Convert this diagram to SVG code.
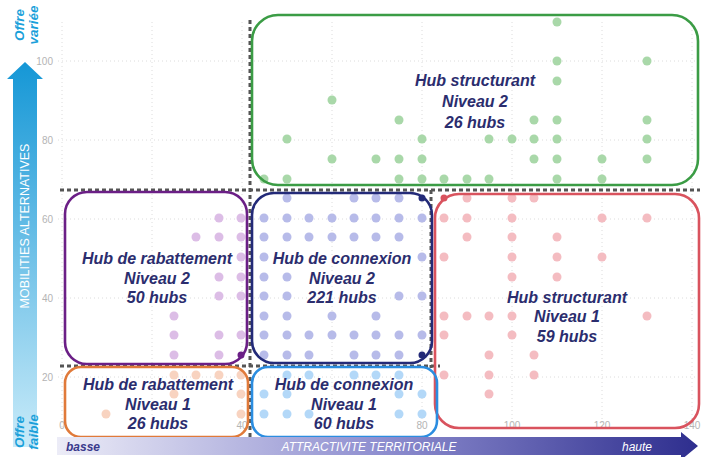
<svg xmlns="http://www.w3.org/2000/svg" width="702" height="457" viewBox="0 0 702 457">
<defs>
<linearGradient id="gv" x1="0" y1="1" x2="0" y2="0">
<stop offset="0" stop-color="#c9ebf9"/>
<stop offset="1" stop-color="#1597d6"/>
</linearGradient>
<linearGradient id="gh" x1="0" y1="0" x2="1" y2="0">
<stop offset="0" stop-color="#ececf7"/>
<stop offset="0.5" stop-color="#8f8fd0"/>
<stop offset="1" stop-color="#2e2e8e"/>
</linearGradient>
<style>
.grid{stroke:#dcdcdc;stroke-width:1;stroke-dasharray:1 3;fill:none}
.tick{font-family:"Liberation Sans",Arial,sans-serif;font-size:10px;fill:#b4b4b4}
.sep{stroke:#555;stroke-width:3;stroke-dasharray:4 3;fill:none}
.box{fill:none;stroke-width:2.6}
.lbl{font-family:"Liberation Sans",Arial,sans-serif;font-size:16px;font-weight:bold;font-style:italic;fill:#2b2d6e;text-anchor:middle}
.g circle{fill:#a9d8a9}
.p circle{fill:#dcbde6}
.n circle{fill:#b7bbe9}
.r circle{fill:#f4bcc1}
.o circle{fill:#f8d3c0}
.b circle{fill:#b3d8f8}
.ax{font-family:"Liberation Sans",Arial,sans-serif;font-size:13.5px;font-weight:bold;font-style:italic;fill:#1aa0da}
.axh{font-family:"Liberation Sans",Arial,sans-serif;font-size:12px;font-style:italic}
</style>
</defs>
<rect width="702" height="457" fill="#ffffff"/>

<g id="gridlines">
<path class="grid" d="M62 22V430M152 22V430M242 22V430M332 22V430M422 22V430M512 22V430M602 22V430M692 22V430M58 61H700M58 140H700M58 219H700M58 298H700M58 377H700"/>
<text class="tick" x="53" y="65" text-anchor="end">100</text>
<text class="tick" x="53" y="144" text-anchor="end">80</text>
<text class="tick" x="53" y="223" text-anchor="end">60</text>
<text class="tick" x="53" y="302" text-anchor="end">40</text>
<text class="tick" x="53" y="381" text-anchor="end">20</text>
<text class="tick" x="62" y="429" text-anchor="middle">0</text>
<text class="tick" x="242" y="429" text-anchor="middle">40</text>
<text class="tick" x="422" y="429" text-anchor="middle">80</text>
<text class="tick" x="512" y="429" text-anchor="middle">100</text>
<text class="tick" x="602" y="429" text-anchor="middle">120</text>
<text class="tick" x="692" y="429" text-anchor="middle">140</text>
</g>

<g id="dots">
<g class="g">
<circle cx="557" cy="22" r="4.5"/><circle cx="557" cy="61" r="4.5"/><circle cx="647" cy="61" r="4.5"/><circle cx="557" cy="81" r="4.5"/>
<circle cx="332" cy="100" r="4.5"/><circle cx="399" cy="120" r="4.5"/><circle cx="534" cy="120" r="4.5"/><circle cx="557" cy="120" r="4.5"/><circle cx="647" cy="120" r="4.5"/>
<circle cx="287" cy="139" r="4.5"/><circle cx="422" cy="139" r="4.5"/><circle cx="489" cy="139" r="4.5"/><circle cx="512" cy="139" r="4.5"/><circle cx="534" cy="139" r="4.5"/><circle cx="557" cy="139" r="4.5"/><circle cx="647" cy="139" r="4.5"/>
<circle cx="332" cy="159" r="4.5"/><circle cx="376" cy="159" r="4.5"/><circle cx="399" cy="159" r="4.5"/><circle cx="422" cy="159" r="4.5"/><circle cx="534" cy="159" r="4.5"/><circle cx="557" cy="159" r="4.5"/><circle cx="602" cy="159" r="4.5"/><circle cx="647" cy="159" r="4.5"/>
<circle cx="264" cy="179" r="4.5"/><circle cx="287" cy="179" r="4.5"/><circle cx="399" cy="179" r="4.5"/><circle cx="422" cy="179" r="4.5"/><circle cx="444" cy="179" r="4.5"/><circle cx="467" cy="179" r="4.5"/><circle cx="489" cy="179" r="4.5"/><circle cx="557" cy="179" r="4.5"/><circle cx="602" cy="179" r="4.5"/>
</g>
<g class="p">
<circle cx="219" cy="218" r="4.5"/><circle cx="241" cy="218" r="4.5"/><circle cx="196" cy="237" r="4.5"/><circle cx="219" cy="237" r="4.5"/><circle cx="241" cy="237" r="4.5"/><circle cx="241" cy="257" r="4.5"/>
<circle cx="219" cy="277" r="4.5"/><circle cx="241" cy="277" r="4.5"/><circle cx="219" cy="296" r="4.5"/><circle cx="241" cy="296" r="4.5"/><circle cx="174" cy="316" r="4.5"/>
<circle cx="174" cy="335" r="4.5"/><circle cx="219" cy="335" r="4.5"/><circle cx="241" cy="335" r="4.5"/><circle cx="174" cy="355" r="4.5"/><circle cx="219" cy="355" r="4.5"/>
</g>
<g class="n">
<circle cx="287" cy="198" r="4.5"/><circle cx="354" cy="198" r="4.5"/><circle cx="376" cy="198" r="4.5"/><circle cx="399" cy="198" r="4.5"/>
<circle cx="264" cy="218" r="4.5"/><circle cx="287" cy="218" r="4.5"/><circle cx="309" cy="218" r="4.5"/><circle cx="332" cy="218" r="4.5"/><circle cx="354" cy="218" r="4.5"/><circle cx="376" cy="218" r="4.5"/><circle cx="399" cy="218" r="4.5"/><circle cx="422" cy="218" r="4.5"/>
<circle cx="264" cy="237" r="4.5"/><circle cx="287" cy="237" r="4.5"/><circle cx="309" cy="237" r="4.5"/><circle cx="332" cy="237" r="4.5"/><circle cx="354" cy="237" r="4.5"/><circle cx="376" cy="237" r="4.5"/><circle cx="399" cy="237" r="4.5"/>
<circle cx="264" cy="257" r="4.5"/><circle cx="422" cy="257" r="4.5"/>
<circle cx="264" cy="277" r="4.5"/><circle cx="287" cy="277" r="4.5"/>
<circle cx="264" cy="296" r="4.5"/><circle cx="287" cy="296" r="4.5"/><circle cx="399" cy="296" r="4.5"/><circle cx="422" cy="296" r="4.5"/>
<circle cx="264" cy="316" r="4.5"/><circle cx="287" cy="316" r="4.5"/><circle cx="332" cy="316" r="4.5"/><circle cx="376" cy="316" r="4.5"/>
<circle cx="264" cy="335" r="4.5"/><circle cx="287" cy="335" r="4.5"/><circle cx="309" cy="335" r="4.5"/><circle cx="332" cy="335" r="4.5"/><circle cx="354" cy="335" r="4.5"/><circle cx="376" cy="335" r="4.5"/><circle cx="399" cy="335" r="4.5"/><circle cx="422" cy="335" r="4.5"/>
<circle cx="264" cy="355" r="4.5"/><circle cx="287" cy="355" r="4.5"/><circle cx="309" cy="355" r="4.5"/><circle cx="354" cy="355" r="4.5"/><circle cx="376" cy="355" r="4.5"/><circle cx="399" cy="355" r="4.5"/>
</g>
<g class="r">
<circle cx="467" cy="198" r="4.5"/><circle cx="512" cy="198" r="4.5"/><circle cx="534" cy="198" r="4.5"/>
<circle cx="444" cy="218" r="4.5"/><circle cx="467" cy="218" r="4.5"/><circle cx="512" cy="218" r="4.5"/><circle cx="602" cy="218" r="4.5"/><circle cx="647" cy="218" r="4.5"/>
<circle cx="467" cy="237" r="4.5"/><circle cx="512" cy="237" r="4.5"/><circle cx="557" cy="237" r="4.5"/>
<circle cx="444" cy="257" r="4.5"/><circle cx="512" cy="257" r="4.5"/><circle cx="557" cy="257" r="4.5"/><circle cx="602" cy="257" r="4.5"/>
<circle cx="512" cy="277" r="4.5"/><circle cx="557" cy="277" r="4.5"/>
<circle cx="444" cy="316" r="4.5"/><circle cx="467" cy="316" r="4.5"/><circle cx="489" cy="316" r="4.5"/><circle cx="512" cy="316" r="4.5"/><circle cx="647" cy="316" r="4.5"/>
<circle cx="444" cy="335" r="4.5"/><circle cx="512" cy="335" r="4.5"/>
<circle cx="489" cy="355" r="4.5"/><circle cx="534" cy="355" r="4.5"/>
<circle cx="444" cy="375" r="4.5"/><circle cx="489" cy="375" r="4.5"/><circle cx="534" cy="375" r="4.5"/>
<circle cx="489" cy="394" r="4.5"/>
</g>
<g class="o">
<circle cx="174" cy="375" r="4.5"/><circle cx="196" cy="375" r="4.5"/><circle cx="219" cy="375" r="4.5"/><circle cx="241" cy="375" r="4.5"/>
<circle cx="174" cy="394" r="4.5"/><circle cx="241" cy="394" r="4.5"/><circle cx="106" cy="414" r="4.5"/><circle cx="241" cy="414" r="4.5"/>
</g>
<g class="b">
<circle cx="287" cy="375" r="4.5"/><circle cx="309" cy="375" r="4.5"/><circle cx="354" cy="375" r="4.5"/><circle cx="376" cy="375" r="4.5"/><circle cx="399" cy="375" r="4.5"/>
<circle cx="264" cy="394" r="4.5"/><circle cx="287" cy="394" r="4.5"/><circle cx="399" cy="394" r="4.5"/><circle cx="422" cy="394" r="4.5"/>
<circle cx="264" cy="414" r="4.5"/><circle cx="287" cy="414" r="4.5"/><circle cx="309" cy="414" r="4.5"/><circle cx="399" cy="414" r="4.5"/><circle cx="422" cy="414" r="4.5"/>
</g>
</g>

<g id="connectors">
<path class="sep" d="M250 20V440"/>
<path class="sep" d="M60 190H700"/>
<path class="sep" d="M60 366H440"/>
<path class="sep" d="M431 190V368"/>
</g>

<g id="hub-structurant-n2">
<rect class="box" x="252" y="15" width="446" height="170" rx="26" stroke="#3b9c45"/>
<text class="lbl" x="475" y="86">Hub structurant</text>
<text class="lbl" x="475" y="107">Niveau 2</text>
<text class="lbl" x="475" y="128">26 hubs</text>
</g>

<g id="hub-rabattement-n2">
<rect class="box" x="65" y="192" width="182" height="172" rx="22" stroke="#6b1f86"/>
<circle cx="241" cy="355" r="3.5" fill="#6b1f86"/>
<text class="lbl" x="157" y="264">Hub de rabattement</text>
<text class="lbl" x="157" y="284">Niveau 2</text>
<text class="lbl" x="157" y="303">50 hubs</text>
</g>

<g id="hub-connexion-n2">
<rect class="box" x="252" y="193" width="180" height="170" rx="22" stroke="#232a78"/>
<circle cx="422" cy="198" r="3.5" fill="#232a78"/>
<circle cx="422" cy="355" r="3.5" fill="#232a78"/>
<text class="lbl" x="342" y="264">Hub de connexion</text>
<text class="lbl" x="342" y="284">Niveau 2</text>
<text class="lbl" x="342" y="303">221 hubs</text>
</g>

<g id="hub-structurant-n1">
<rect class="box" x="435" y="194" width="264" height="234" rx="24" stroke="#d9535e"/>
<circle cx="444" cy="198" r="3.5" fill="#d9535e"/>
<text class="lbl" x="567" y="303">Hub structurant</text>
<text class="lbl" x="567" y="322">Niveau 1</text>
<text class="lbl" x="567" y="342">59 hubs</text>
</g>

<g id="hub-rabattement-n1">
<rect class="box" x="65" y="367" width="183" height="70" rx="16" stroke="#e07a3a"/>
<text class="lbl" x="158" y="390">Hub de rabattement</text>
<text class="lbl" x="158" y="410">Niveau 1</text>
<text class="lbl" x="158" y="429">26 hubs</text>
</g>

<g id="hub-connexion-n1">
<rect class="box" x="252" y="367" width="185" height="70" rx="16" stroke="#2b8de0"/>
<text class="lbl" x="344" y="390">Hub de connexion</text>
<text class="lbl" x="344" y="410">Niveau 1</text>
<text class="lbl" x="344" y="429">60 hubs</text>
</g>

<g id="axis-y">
<path d="M13 447V79H7L25 62L43 79H37V447Z" fill="url(#gv)"/>
<text x="0" y="0" transform="translate(29 226) rotate(-90)" text-anchor="middle" font-family="'Liberation Sans',Arial,sans-serif" font-size="12.5" fill="#ffffff">MOBILITIES ALTERNATIVES</text>
<text class="ax" transform="translate(24 25) rotate(-90)" text-anchor="middle">Offre</text>
<text class="ax" transform="translate(38 25) rotate(-90)" text-anchor="middle">variée</text>
<text class="ax" transform="translate(24 432) rotate(-90)" text-anchor="middle">Offre</text>
<text class="ax" transform="translate(38 432) rotate(-90)" text-anchor="middle">faible</text>
</g>

<g id="axis-x">
<path d="M57 437H681V432L698 446L681 460V455H57Z" fill="url(#gh)"/>
<text class="axh" x="66" y="451" font-weight="bold" fill="#3a3a8c">basse</text>
<text class="axh" x="369" y="451" text-anchor="middle" font-size="12.5" fill="#ffffff">ATTRACTIVITE TERRITORIALE</text>
<text class="axh" x="637" y="451" text-anchor="middle" fill="#ffffff">haute</text>
</g>
</svg>
